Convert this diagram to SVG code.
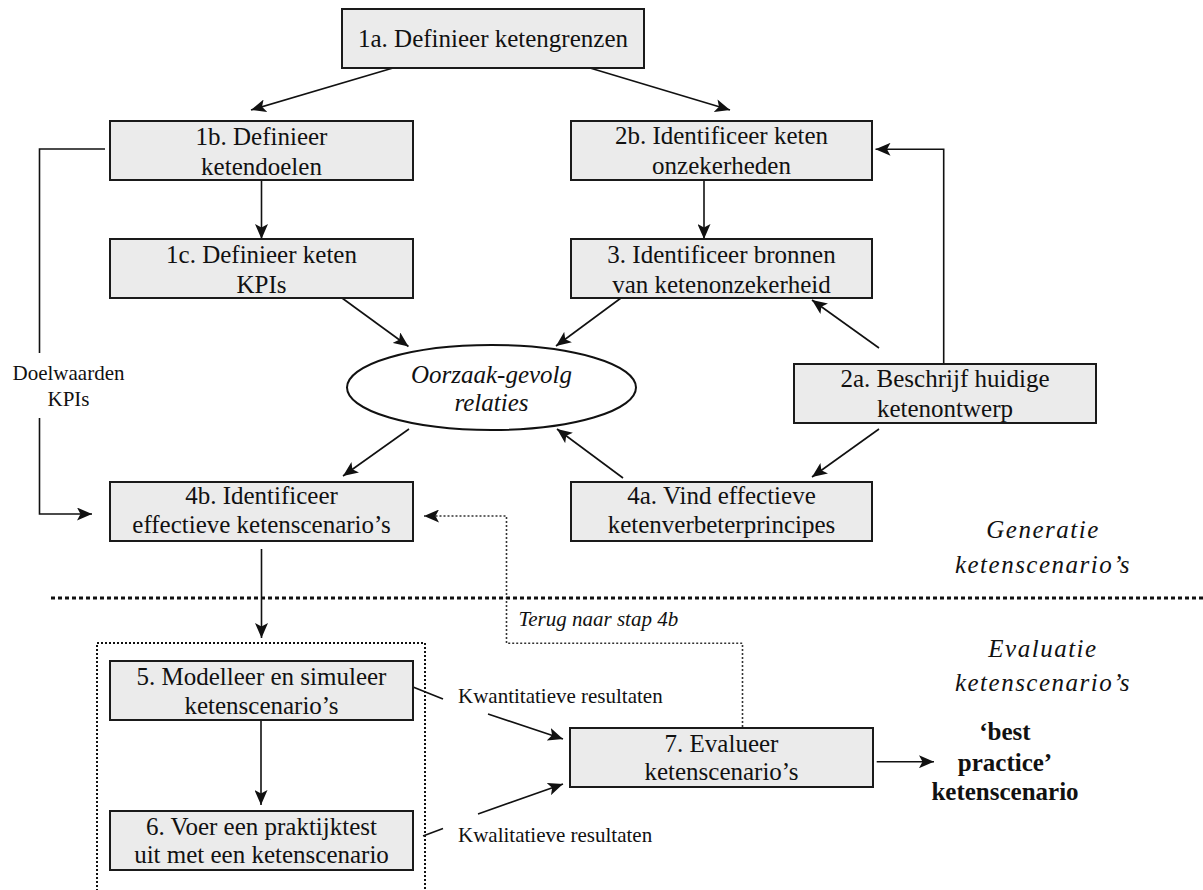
<svg xmlns="http://www.w3.org/2000/svg" width="1203" height="890" viewBox="0 0 1203 890">
  <style>
    text { font-family: "Liberation Serif", "Times New Roman", Tinos, Times, "DejaVu Serif", serif; fill: #111; }
    .box { fill: #ebebeb; stroke: #1a1a1a; stroke-width: 2; }
    .t { font-size: 25px; text-anchor: middle; }
    .ti { font-size: 25px; font-style: italic; text-anchor: middle; }
    .zone { font-size: 25px; font-style: italic; letter-spacing: 1.5px; text-anchor: middle; }
    .small { font-size: 21px; }
    .bold { font-size: 25px; font-weight: bold; text-anchor: middle; }
    .ln { fill: none; stroke: #111; stroke-width: 1.6; }
    .arr { marker-end: url(#ah); }
    .dot { fill: none; stroke: #333; stroke-width: 1.6; stroke-dasharray: 2 2; }
  </style>
  <defs>
    <marker id="ah" markerUnits="userSpaceOnUse" markerWidth="15" markerHeight="13" refX="15" refY="6.5" orient="auto">
      <path d="M0,0 L15,6.5 L0,13 L3.5,6.5 z" fill="#111"/>
    </marker>
  </defs>

  <rect width="1203" height="890" fill="#ffffff"/>

  <!-- connectors -->
  <g id="connectors">
    <path class="ln arr" d="M393,68 L251,110"/>
    <path class="ln arr" d="M590,68 L730,110"/>
    <path class="ln arr" d="M261.5,180 V239"/>
    <path class="ln arr" d="M704,180 V239"/>
    <path class="ln arr" d="M342,298 L408.5,346.5"/>
    <path class="ln arr" d="M621,298 L556,346"/>
    <path class="ln arr" d="M409,429 L343,476"/>
    <path class="ln arr" d="M623,478 L557,429"/>
    <path class="ln arr" d="M879,348 L812,300"/>
    <path class="ln arr" d="M879,429 L812,477"/>
    <path class="ln arr" d="M943.7,364 V149.3 H875.5"/>
    <path class="ln" d="M105,149 H39.5 V353"/>
    <path class="ln arr" d="M39.5,418 V514 H92"/>
    <path class="ln arr" d="M261.5,549 V638" stroke-width="2.6"/>
    <path class="dot arr" d="M742.5,727 V643.3 H506.5 V516 H424"/>
    <path class="ln arr" d="M261,720 V805"/>
    <path class="ln" d="M413,687 L443,699"/>
    <path class="ln arr" d="M488,714 L563,739"/>
    <path class="ln" d="M423,836 L443,828.5"/>
    <path class="ln arr" d="M478,814 L563,784"/>
    <path class="ln arr" d="M876.7,761.7 H934" stroke-width="2.2"/>
  </g>

  <!-- phase separator -->
  <path id="separator" d="M51,598 H1203" fill="none" stroke="#111" stroke-width="3" stroke-dasharray="4 3"/>

  <!-- evaluation frame -->
  <path id="evaluation-frame" d="M97,895 V643 H425 V895" fill="none" stroke="#111" stroke-width="2" stroke-dasharray="2 2"/>

  <g id="n1a">
    <rect class="box" x="342" y="9" width="302" height="59"/>
    <text class="t" x="493" y="47">1a. Definieer ketengrenzen</text>
  </g>
  <g id="n1b">
    <rect class="box" x="110" y="121" width="303" height="59"/>
    <text class="t" x="261.5" y="145">1b. Definieer</text>
    <text class="t" x="261.5" y="175">ketendoelen</text>
  </g>
  <g id="n1c">
    <rect class="box" x="110" y="239" width="303" height="59"/>
    <text class="t" x="261.5" y="263">1c. Definieer keten</text>
    <text class="t" x="261.5" y="293">KPIs</text>
  </g>
  <g id="n2b">
    <rect class="box" x="571" y="121" width="301" height="59"/>
    <text class="t" x="721.5" y="144">2b. Identificeer keten</text>
    <text class="t" x="721.5" y="174">onzekerheden</text>
  </g>
  <g id="n3">
    <rect class="box" x="571" y="239" width="301" height="59"/>
    <text class="t" x="721.5" y="263">3. Identificeer bronnen</text>
    <text class="t" x="721.5" y="293">van ketenonzekerheid</text>
  </g>
  <g id="ellipse-oorzaak">
    <ellipse cx="491.5" cy="387.5" rx="144.5" ry="42.5" fill="#ffffff" stroke="#111" stroke-width="2"/>
    <text class="ti" x="491.5" y="383">Oorzaak-gevolg</text>
    <text class="ti" x="491.5" y="411">relaties</text>
  </g>
  <g id="n2a">
    <rect class="box" x="794" y="364" width="302" height="59"/>
    <text class="t" x="945" y="387">2a. Beschrijf huidige</text>
    <text class="t" x="945" y="417">ketenontwerp</text>
  </g>
  <g id="n4b">
    <rect class="box" x="110" y="482" width="303" height="59"/>
    <text class="t" x="261.5" y="504">4b. Identificeer</text>
    <text class="t" x="261.5" y="533">effectieve ketenscenario’s</text>
  </g>
  <g id="n4a">
    <rect class="box" x="571" y="482" width="301" height="59"/>
    <text class="t" x="721.5" y="504">4a. Vind effectieve</text>
    <text class="t" x="721.5" y="533">ketenverbeterprincipes</text>
  </g>
  <g id="n5">
    <rect class="box" x="110" y="661" width="303" height="59"/>
    <text class="t" x="261.5" y="685">5. Modelleer en simuleer</text>
    <text class="t" x="261.5" y="714">ketenscenario’s</text>
  </g>
  <g id="n6">
    <rect class="box" x="110" y="811" width="303" height="59"/>
    <text class="t" x="261.5" y="835">6. Voer een praktijktest</text>
    <text class="t" x="261.5" y="863">uit met een ketenscenario</text>
  </g>
  <g id="n7">
    <rect class="box" x="570" y="728" width="303" height="59"/>
    <text class="t" x="721.5" y="752">7. Evalueer</text>
    <text class="t" x="721.5" y="780">ketenscenario’s</text>
  </g>

  <!-- labels -->
  <g id="labels">
    <text class="small" x="68.5" y="380" text-anchor="middle">Doelwaarden</text>
    <text class="small" x="68.5" y="406" text-anchor="middle">KPIs</text>
    <text class="small" x="518.5" y="626" font-style="italic">Terug naar stap 4b</text>
    <text class="small" x="458" y="703">Kwantitatieve resultaten</text>
    <text class="small" x="458" y="842">Kwalitatieve resultaten</text>
    <text class="zone" x="1043" y="538">Generatie</text>
    <text class="zone" x="1043" y="573">ketenscenario’s</text>
    <text class="zone" x="1043" y="657">Evaluatie</text>
    <text class="zone" x="1043" y="691">ketenscenario’s</text>
    <text class="bold" x="1005" y="740">‘best</text>
    <text class="bold" x="1005" y="771">practice’</text>
    <text class="bold" x="1005" y="800">ketenscenario</text>
  </g>
</svg>
